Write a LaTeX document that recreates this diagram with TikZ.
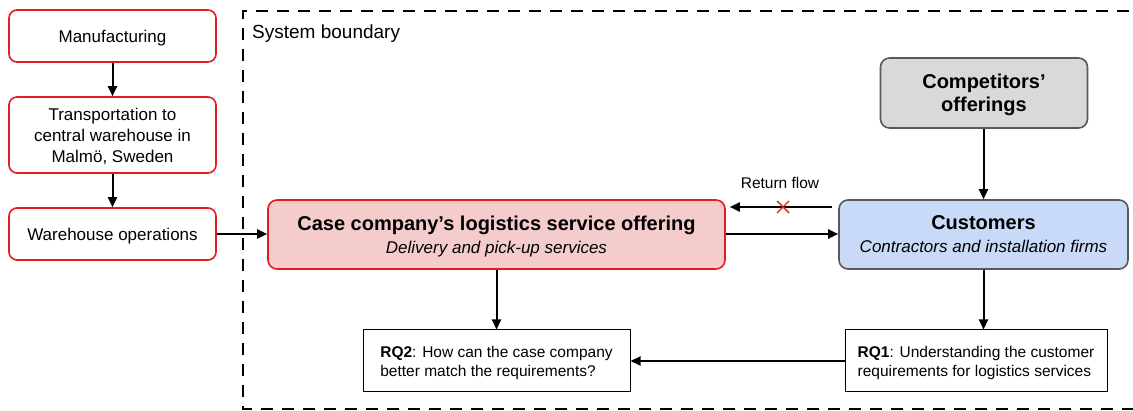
\documentclass[tikz,border=0pt]{standalone}
\usepackage{fontspec}
\setmainfont{Liberation Sans}
\usetikzlibrary{arrows.meta,calc}
\definecolor{boxred}{HTML}{E31B23}
\definecolor{casefill}{HTML}{F4CCCC}
\definecolor{custfill}{HTML}{C9DAF8}
\definecolor{compfill}{HTML}{D9D9D9}
\definecolor{edgegray}{HTML}{595959}
\newcommand{\titletext}[1]{{\fontsize{20}{23}\selectfont\bfseries #1}}
\newcommand{\subtext}[1]{{\fontsize{17}{23}\selectfont\itshape #1}}
\tikzset{
  procbox/.style={draw=boxred, line width=1.6pt, rounded corners=8pt, fill=white,
    minimum width=207pt, align=center, inner sep=2pt, text depth=0pt,
    font=\fontsize{17}{21}\selectfont},
  bigbox/.style={line width=1.6pt, rounded corners=9pt, align=center, inner sep=2pt,
    text depth=0pt, font=\fontsize{17}{23}\selectfont},
  rqbox/.style={draw=black, line width=1pt, fill=white, align=left, inner sep=2pt,
    minimum height=62pt, text depth=0pt, font=\fontsize{15.5}{19}\selectfont},
  flow/.style={line width=2pt, -{Triangle[length=10pt,width=9pt]}},
}
\begin{document}
\begin{tikzpicture}[x=1pt,y=-1pt]
\useasboundingbox (0,0) rectangle (1133,411);

% system boundary
\draw[line width=2.6pt, dash pattern=on 12pt off 9pt] (1150,11) -- (243,11) -- (243,409) -- (1150,409);
\node[anchor=west, inner sep=0pt, font=\fontsize{19}{22}\selectfont] (sb) at (252,34) {System boundary};

% upstream process chain
\node[procbox, minimum height=52pt] (manu) at (112.5,36) {Manufacturing};
\node[procbox, minimum height=76pt] (trans) at (112.5,135) {Transportation to\\central warehouse in\\Malmö, Sweden};
\node[procbox, minimum height=52pt] (ware) at (112.5,234) {Warehouse operations};

% main boxes
\node[bigbox, draw=boxred, fill=casefill, minimum width=457pt, minimum height=69pt] (case) at (496.5,234.5)
  {\titletext{Case company’s logistics service offering}\\
   \subtext{Delivery and pick-up services}};
\node[bigbox, draw=edgegray, fill=custfill, minimum width=289pt, minimum height=69pt] (cust) at (983.5,234.5)
  {\titletext{Customers}\\
   \subtext{Contractors and installation firms}};
\node[bigbox, draw=edgegray, fill=compfill, minimum width=207pt, minimum height=70pt] (comp) at (984,93)
  {\titletext{Competitors’}\\\titletext{offerings}};

% research questions
\node[rqbox, minimum width=267pt] (rq2) at (496.5,361)
  {\textbf{RQ2}: How can the case company\\better match the requirements?};
\node[rqbox, minimum width=262pt] (rq1) at (976,361)
  {\textbf{RQ1}: Understanding the customer\\requirements for logistics services};

% connectors
\draw[flow] (manu) -- (trans);
\draw[flow] (trans) -- (ware);
\draw[flow] (ware.east) -- (case.west |- ware.east);
\draw[flow] ($(case.east)+(0,-0.5)$) -- ($(cust.west)+(0,-0.5)$);
\coordinate (retstart) at ($(cust.west)+(-6,-27.5)$);
\coordinate (retend) at ($(case.east)+(4,-27.5)$);
\draw[flow] (retstart) -- (retend);
\node[font=\fontsize{15.5}{18}\selectfont, inner sep=0pt] (retlbl) at (780,183) {Return flow};
\draw[boxred, line width=1.4pt] (777,201) -- (789,213) (789,201) -- (777,213);
\draw[flow] (comp.south -| cust.south) -- (cust.north);
\draw[flow] (case.south) -- (case.south |- rq2.north);
\draw[flow] (cust.south) -- (cust.south |- rq1.north);
\draw[flow] (rq1.west) -- (rq2.east);
\end{tikzpicture}
\end{document}
